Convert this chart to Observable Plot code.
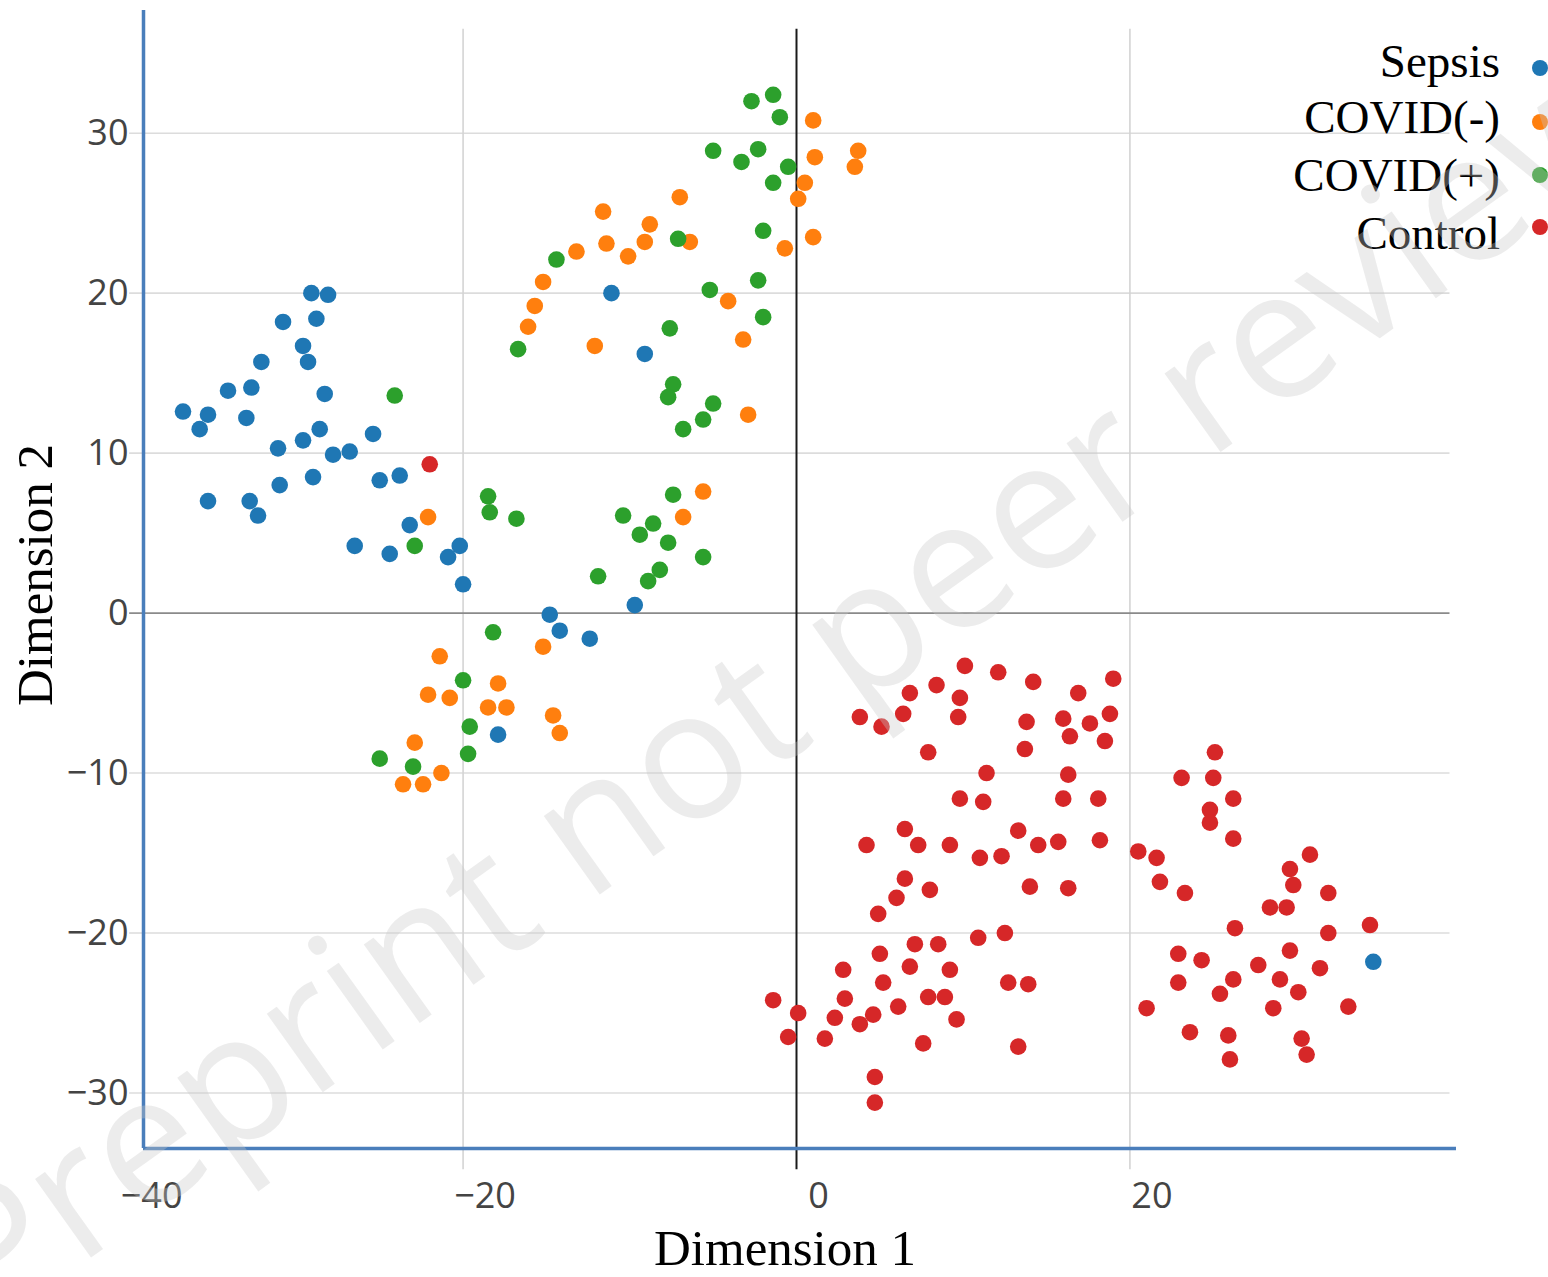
<!DOCTYPE html>
<html>
<head>
<meta charset="utf-8">
<script src="https://cdn.jsdelivr.net/npm/d3@7"></script>
<script src="https://cdn.jsdelivr.net/npm/@observablehq/plot@0.6"></script>
<style>
  html, body { margin: 0; padding: 0; background: #fff; }
  #wrap { position: relative; width: 1548px; height: 1277px; overflow: hidden; }
  #chart svg { display: block; }
  .title { position: absolute; font-family: "Liberation Serif", "Times New Roman", serif; font-size: 51px; color: #000; white-space: nowrap; line-height: 1; }
  .leg { position: absolute; font-family: "Liberation Serif", "Times New Roman", serif; font-size: 47px; color: #000; white-space: nowrap; line-height: 1; text-align: right; }
  .legdot { position: absolute; width: 16px; height: 16px; border-radius: 50%; }
  #wm { position: absolute; left: -102px; top: 1200px; transform-origin: 0 0; transform: rotate(-35.5deg);
        font-family: "Open Sans", sans-serif; font-size: 180px; line-height: 1; color: rgba(200,200,200,0.35);
        white-space: nowrap; pointer-events: none; }
</style>
</head>
<body>
<div id="wrap">
  <div id="chart"></div>
</div>
<script>
// ---- data ----
const categories = ["Sepsis", "COVID(-)", "COVID(+)", "Control"];
const colors = ["#1f77b4", "#ff7f0e", "#2ca02c", "#d62728"];

const sepsis = [
  [-29.1,20.0],[-28.1,19.9],[-30.8,18.2],[-28.8,18.4],[-29.6,16.7],[-29.3,15.7],[-32.1,15.7],
  [-34.1,13.9],[-32.7,14.1],[-28.3,13.7],[-36.8,12.6],[-35.3,12.4],[-35.8,11.5],[-33.0,12.2],
  [-28.6,11.5],[-29.6,10.8],[-31.1,10.3],[-27.8,9.9],[-26.8,10.1],[-25.4,11.2],[-29.0,8.5],
  [-31.0,8.0],[-25.0,8.3],[-23.8,8.6],[-35.3,7.0],[-32.8,7.0],[-32.3,6.1],[-23.2,5.5],
  [-26.5,4.2],[-24.4,3.7],[-20.9,3.5],[-20.2,4.2],[-20.0,1.8],[-17.9,-7.6],[-14.8,-0.1],
  [-14.2,-1.1],[-12.4,-1.6],[-11.1,20.0],[-9.1,16.2],[-9.7,0.5],[34.6,-21.8]
];
const covidNeg = [
  [-22.1,6.0],[1.0,30.8],[1.1,28.5],[3.7,28.9],[3.5,27.9],[0.5,26.9],[0.1,25.9],[-7.0,26.0],
  [-11.6,25.1],[-8.8,24.3],[-11.4,23.1],[-9.1,23.2],[-10.1,22.3],[-13.2,22.6],[-6.4,23.2],
  [1.0,23.5],[-0.7,22.8],[-15.2,20.7],[-4.1,19.5],[-15.7,19.2],[-16.1,17.9],[-12.1,16.7],
  [-3.2,17.1],[-2.9,12.4],[-5.6,7.6],[-6.8,6.0],[-15.2,-2.1],[-21.4,-2.7],[-17.9,-4.4],
  [-22.1,-5.1],[-20.8,-5.3],[-18.5,-5.9],[-17.4,-5.9],[-14.6,-6.4],[-14.2,-7.5],[-22.9,-8.1],
  [-21.3,-10.0],[-23.6,-10.7],[-22.4,-10.7]
];
const covidPos = [
  [-2.7,32.0],[-1.4,32.4],[-1.0,31.0],[-5.0,28.9],[-3.3,28.2],[-2.3,29.0],[-0.5,27.9],[-1.4,26.9],
  [-7.1,23.4],[-2.0,23.9],[-14.4,22.1],[-5.2,20.2],[-2.3,20.8],[-2.0,18.5],[-16.7,16.5],[-7.6,17.8],
  [-7.4,14.3],[-7.7,13.5],[-5.0,13.1],[-5.6,12.1],[-6.8,11.5],[-24.1,13.6],[-18.5,7.3],[-18.4,6.3],
  [-16.8,5.9],[-22.9,4.2],[-7.4,7.4],[-10.4,6.1],[-8.6,5.6],[-9.4,4.9],[-7.7,4.4],[-5.6,3.5],
  [-11.9,2.3],[-8.2,2.7],[-8.9,2.0],[-18.2,-1.2],[-20.0,-4.2],[-19.6,-7.1],[-19.7,-8.8],
  [-25.0,-9.1],[-23.0,-9.6]
];
const control = [
  [-22.0,9.3],[10.1,-3.3],[12.1,-3.7],[14.2,-4.3],[19.0,-4.1],[6.8,-5.0],[8.4,-4.5],[9.8,-5.3],
  [16.9,-5.0],[3.8,-6.5],[5.1,-7.1],[6.4,-6.3],[9.7,-6.5],[13.8,-6.8],[16.0,-6.6],[17.6,-6.9],
  [18.8,-6.3],[16.4,-7.7],[18.5,-8.0],[7.9,-8.7],[13.7,-8.5],[11.4,-10.0],[16.3,-10.1],[9.8,-11.6],
  [11.2,-11.8],[16.0,-11.6],[18.1,-11.6],[6.5,-13.5],[13.3,-13.6],[4.2,-14.5],[7.3,-14.5],[9.2,-14.5],
  [11.0,-15.3],[12.3,-15.2],[14.5,-14.5],[15.7,-14.3],[18.2,-14.2],[20.5,-14.9],[6.5,-16.6],
  [14.0,-17.1],[16.3,-17.2],[6.0,-17.8],[8.0,-17.3],[25.1,-8.7],[23.1,-10.3],[25.0,-10.3],
  [26.2,-11.6],[24.8,-12.3],[24.8,-13.1],[26.2,-14.1],[21.6,-15.3],[21.8,-16.8],[23.3,-17.5],
  [30.8,-15.1],[29.6,-16.0],[29.8,-17.0],[31.9,-17.5],[28.4,-18.4],[29.4,-18.4],[4.9,-18.8],
  [10.9,-20.3],[12.5,-20.0],[7.1,-20.7],[8.5,-20.7],[5.0,-21.3],[2.8,-22.3],[6.8,-22.1],[9.2,-22.3],
  [5.2,-23.1],[12.7,-23.1],[13.9,-23.2],[-1.4,-24.2],[2.9,-24.1],[7.9,-24.0],[8.9,-24.0],[6.1,-24.6],
  [0.1,-25.0],[4.6,-25.1],[2.3,-25.3],[3.8,-25.7],[9.6,-25.4],[-0.5,-26.5],[1.7,-26.6],[7.6,-26.9],
  [13.3,-27.1],[4.7,-29.0],[4.7,-30.6],[26.3,-19.7],[31.9,-20.0],[34.4,-19.5],[22.9,-21.3],
  [24.3,-21.7],[27.7,-22.0],[29.6,-21.1],[31.4,-22.2],[22.9,-23.1],[26.2,-22.9],[29.0,-22.9],
  [25.4,-23.8],[30.1,-23.7],[21.0,-24.7],[28.6,-24.7],[33.1,-24.6],[23.6,-26.2],[25.9,-26.4],
  [30.3,-26.6],[26.0,-27.9],[30.6,-27.6]
];

const xTicks = [-40, -20, 0, 20];
const yTicks = [-30, -20, -10, 0, 10, 20, 30];

// ---- build ----
const series = [sepsis, covidNeg, covidPos, control];
const points = series.flatMap((arr, i) => arr.map(([x, y]) => ({x, y, group: categories[i]})));

const xDomain = [-39.17, 39.59];
const yDomain = [-33.47, 37.67];
const fmt = d => d < 0 ? "\u2212" + Math.abs(d) : String(d);

const chart = Plot.plot({
  width: 1548,
  height: 1277,
  marginLeft: 143,
  marginRight: 92,
  marginTop: 10,
  marginBottom: 129,
  style: {background: "transparent", fontFamily: "'Open Sans', sans-serif"},
  x: {domain: xDomain, axis: null},
  y: {domain: yDomain, axis: null},
  color: {domain: categories, range: colors},
  marks: [
    Plot.ruleY(yTicks.filter(d => d !== 0), {x1: -40, x2: 39.2, stroke: "#dcdcdc", strokeWidth: 1.6}),
    Plot.ruleX(xTicks.filter(d => d !== 0 && d > xDomain[0]), {y1: 36.5, y2: -34.8, stroke: "#d4d4d4", strokeWidth: 1.6}),
    Plot.ruleY([0], {x1: -40, x2: 39.2, stroke: "#8a8a8a", strokeWidth: 1.6}),
    Plot.ruleX([0], {y1: 36.5, y2: -34.8, stroke: "#1a1a1a", strokeWidth: 2}),
    Plot.dot(points, {x: "x", y: "y", fill: "group", r: 8.3, stroke: "none"}),
    Plot.ruleX([xDomain[0]], {stroke: "#4a7ebb", strokeWidth: 3.5}),
    Plot.ruleY([yDomain[0]], {stroke: "#4a7ebb", strokeWidth: 3.5}),
    Plot.axisY(yTicks, {tickSize: 0, tickPadding: 15, fontSize: 36, fill: "#444", tickFormat: fmt, label: null}),
    Plot.axisX(xTicks, {tickSize: 0, tickPadding: 34, fontSize: 36, fill: "#444", tickFormat: fmt, label: null, dx: 22})
  ]
});
const wrap = document.getElementById("wrap");
document.getElementById("chart").appendChild(chart);

// axis titles
const t1 = document.createElement("div");
t1.className = "title"; t1.textContent = "Dimension 1";
t1.style.left = "785px"; t1.style.top = "1248px"; t1.style.transform = "translate(-50%,-50%)";
wrap.appendChild(t1);
const t2 = document.createElement("div");
t2.className = "title"; t2.textContent = "Dimension 2";
t2.style.left = "35px"; t2.style.top = "575px"; t2.style.transform = "translate(-50%,-50%) rotate(-90deg)";
wrap.appendChild(t2);

// legend
const legTextY = [62, 118, 176, 234];
const legDotY = [68, 122, 175, 227];
categories.forEach((c, i) => {
  const d = document.createElement("div");
  d.className = "leg"; d.textContent = c;
  d.style.right = (1548 - 1500) + "px";
  d.style.top = (legTextY[i] - 24) + "px";
  wrap.appendChild(d);
  const dot = document.createElement("div");
  dot.className = "legdot"; dot.style.background = colors[i];
  dot.style.left = (1540 - 8) + "px"; dot.style.top = (legDotY[i] - 8) + "px";
  wrap.appendChild(dot);
});

// watermark
const wm = document.createElement("div");
wm.id = "wm"; wm.textContent = "Preprint not peer review";
wrap.appendChild(wm);
</script>
</body>
</html>
